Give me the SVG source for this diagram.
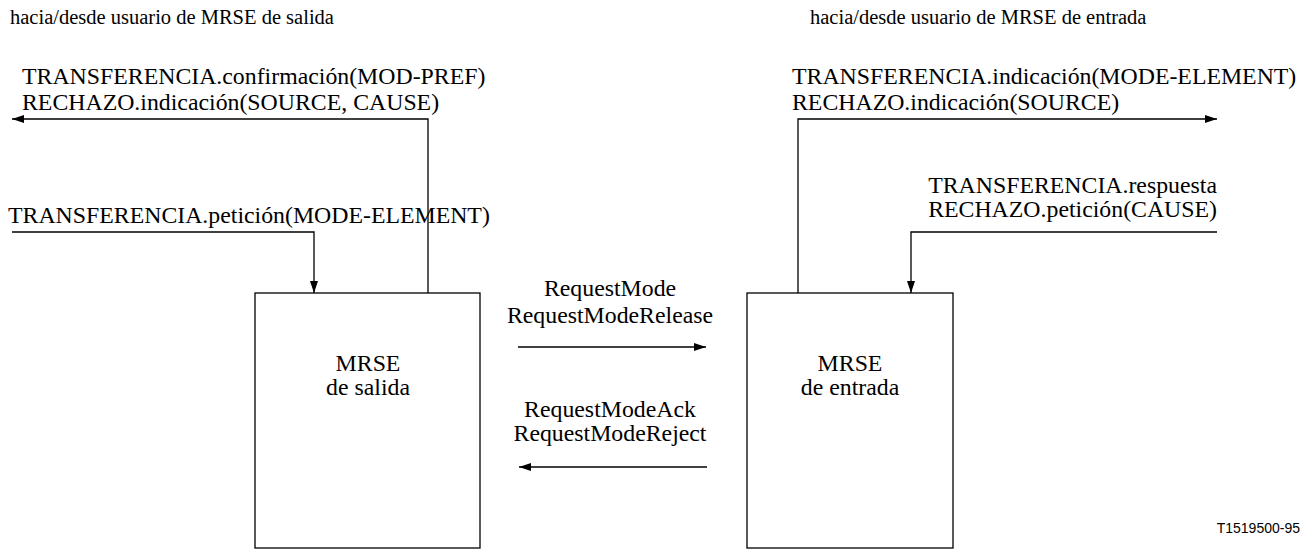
<svg xmlns="http://www.w3.org/2000/svg" width="1308" height="560" viewBox="0 0 1308 560">
<style>
text{font-family:"Liberation Serif","Times New Roman",serif;font-size:23.8px;fill:#000}
.hdr{font-size:20.5px}
.mid{text-anchor:middle}
.end{text-anchor:end}
.lbl{font-family:"Liberation Sans",Arial,sans-serif;font-size:14px;text-anchor:end}
.box{fill:#fff;stroke:#000;stroke-width:1.3}
.ln{fill:none;stroke:#000;stroke-width:1.3}
</style>
<defs>
<marker id="ah" viewBox="0 0 12 8" refX="12" refY="4" markerWidth="12" markerHeight="8" markerUnits="userSpaceOnUse" orient="auto">
<path d="M0,0 L12,4 L0,8 Z" fill="#000"/>
</marker>
</defs>
<g id="headers">
<text class="hdr" x="10" y="24">hacia/desde usuario de MRSE de salida</text>
<text class="hdr" x="810" y="24">hacia/desde usuario de MRSE de entrada</text>
</g>
<g id="node-salida">
<rect class="box" x="255" y="293" width="225" height="255"/>
<text class="mid" x="368" y="371">MRSE</text>
<text class="mid" x="368" y="395">de salida</text>
</g>
<g id="node-entrada">
<rect class="box" x="747" y="293" width="206" height="255"/>
<text class="mid" x="850" y="371">MRSE</text>
<text class="mid" x="850" y="395">de entrada</text>
</g>
<g id="connectors">
<path class="ln" d="M428,293 V119 H12" marker-end="url(#ah)"/>
<path class="ln" d="M12,232 H314 V293" marker-end="url(#ah)"/>
<path class="ln" d="M798,293 V119 H1217" marker-end="url(#ah)"/>
<path class="ln" d="M1217,232 H911 V293" marker-end="url(#ah)"/>
<path class="ln" d="M518,347 H706" marker-end="url(#ah)"/>
<path class="ln" d="M707,467 H519" marker-end="url(#ah)"/>
</g>
<g id="labels">
<text x="22" y="84">TRANSFERENCIA.confirmación(MOD-PREF)</text>
<text x="22" y="110">RECHAZO.indicación(SOURCE, CAUSE)</text>
<text x="8" y="223">TRANSFERENCIA.petición(MODE-ELEMENT)</text>
<text x="792" y="84">TRANSFERENCIA.indicación(MODE-ELEMENT)</text>
<text x="792" y="110">RECHAZO.indicación(SOURCE)</text>
<text class="end" x="1217" y="193">TRANSFERENCIA.respuesta</text>
<text class="end" x="1217" y="217">RECHAZO.petición(CAUSE)</text>
<text class="mid" x="610" y="296">RequestMode</text>
<text class="mid" x="610" y="323">RequestModeRelease</text>
<text class="mid" x="610" y="417">RequestModeAck</text>
<text class="mid" x="610" y="441">RequestModeReject</text>
<text class="lbl" x="1300" y="533">T1519500-95</text>
</g>
</svg>
